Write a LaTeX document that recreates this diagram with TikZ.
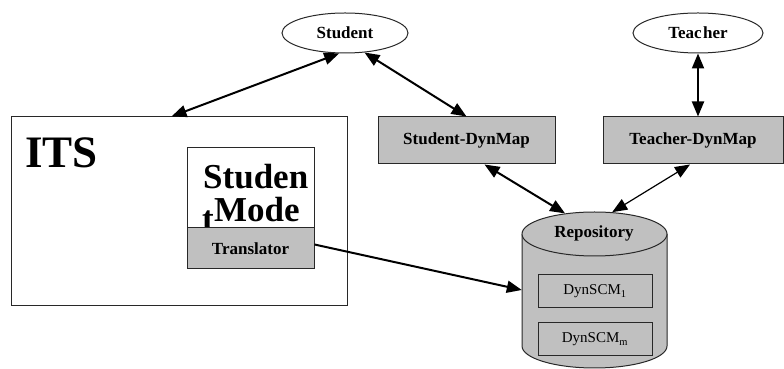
\documentclass[tikz,border=0pt]{standalone}
\usepackage{fontspec}
\setmainfont{Liberation Serif}
\usetikzlibrary{arrows.meta,shapes.geometric,calc}
\definecolor{boxgray}{RGB}{192,192,192}
\definecolor{edgec}{RGB}{40,40,40}
\begin{document}
\begin{tikzpicture}[x=1pt,y=1pt,
  lbl/.style={font=\fontsize{17}{20}\selectfont\bfseries},
  big/.style={font=\fontsize{35}{40}\selectfont\bfseries,anchor=base west,inner sep=0pt},
  graybox/.style={draw=edgec,line width=1pt,fill=boxgray,inner sep=0pt},
  whitebox/.style={draw=edgec,line width=1pt,fill=white,inner sep=0pt},
  oval/.style={ellipse,draw=edgec,line width=1pt,fill=white,inner sep=0pt},
  tip/.tip={Triangle[length=15pt,width=12pt]},
  conn/.style={line width=2pt,tip-tip},
  oneway/.style={line width=2pt,-tip},
  ]
\useasboundingbox (0,0) rectangle (784,369);
% ellipses
\node[oval,lbl,minimum width=126pt,minimum height=40pt] (stu) at (345,336) {Student};
\node[oval,lbl,minimum width=130pt,minimum height=40pt] (tea) at (698,336) {Teac\hspace{1.5pt}her};
% DynMap boxes
\node[graybox,lbl,minimum width=177pt,minimum height=47pt] (sdm) at (466.5,228.5) {Student-DynMap};
\node[graybox,lbl,minimum width=180pt,minimum height=47pt] (tdm) at (693,228.5) {Teacher-DynMap};
% ITS
\node[whitebox,minimum width=336pt,minimum height=189pt] (its) at (179,157.5) {};
\node[font=\fontsize{45}{50}\selectfont\bfseries,anchor=base west,inner sep=0pt] (itsl) at (25,201) {ITS};
\node[whitebox,minimum width=127pt,minimum height=80pt] (sm) at (250.5,181) {};
\node[big] (sma) at (203,180) {Studen};
\node[big] (smb) at (202,138) {t};
\node[big] (smc) at (214,147) {Mode};
\node[graybox,lbl,minimum width=127pt,minimum height=41pt] (tr) at (250.5,120.5) {Translator};
% Repository cylinder
\path[fill=boxgray] (522,135) -- (522,23) arc[start angle=180,end angle=360,x radius=72.5,y radius=22] -- (667,135) -- cycle;
\draw[edgec,line width=1pt] (522,135) -- (522,23) arc[start angle=180,end angle=360,x radius=72.5,y radius=22] -- (667,135);
\node[ellipse,draw=edgec,line width=1pt,fill=boxgray,inner sep=0pt,minimum width=145pt,minimum height=44pt] (repo) at (594.5,135) {};
\node[lbl,anchor=base,inner sep=0pt] (repol) at (594,131) {Repository};
\node[inner sep=0pt,minimum width=145pt,minimum height=112pt] (repobody) at (594.5,79) {};
\node[graybox,font=\fontsize{15}{18}\selectfont,minimum width=114pt,minimum height=33pt] (d1) at (595,77.5) {DynSCM\textsubscript{1}};
\node[graybox,font=\fontsize{15}{18}\selectfont,minimum width=114pt,minimum height=33pt] (d2) at (595,29.5) {DynSCM\textsubscript{m}};
% connectors
\draw[conn] ([xshift=161pt]its.north west) -- (stu.-106);
\draw[conn] (stu.-45) -- (sdm.north);
\draw[conn] (tea.south) -- (tea.south |- tdm.north);
\draw[conn] ([xshift=18pt]sdm.south) -- (repo.145);
\draw[conn,line width=1.2pt] ([xshift=-3pt]tdm.south) -- (repo.51);
\draw[oneway] ([yshift=4pt]tr.east) -- (repobody.west);
\end{tikzpicture}
\end{document}
